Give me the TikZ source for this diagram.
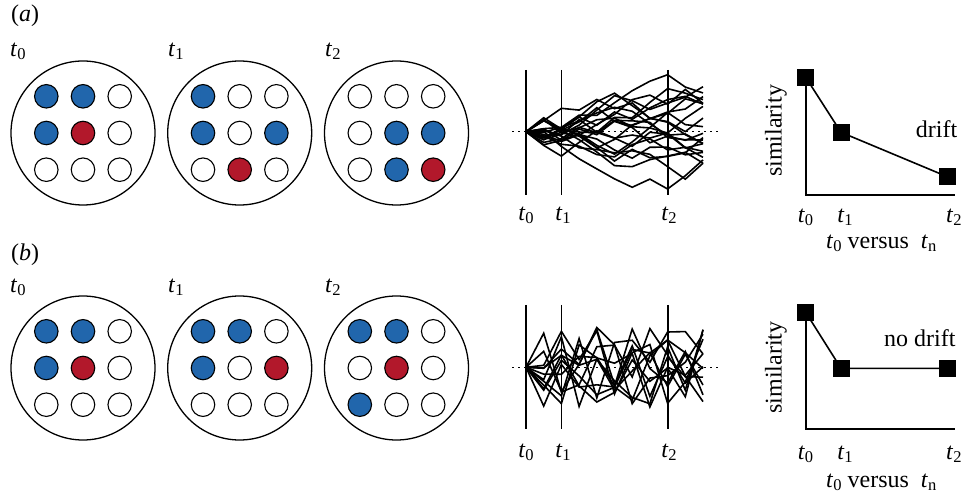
\documentclass[tikz,border=0pt]{standalone}
\usepackage{fontspec}
\setmainfont{Liberation Serif}
\definecolor{cblue}{HTML}{2166AC}
\definecolor{cred}{HTML}{B2182B}
\newcommand\tl[1]{\textit{t}\raisebox{-3pt}{\fontsize{16.5}{17}\selectfont #1}}
\begin{document}
\begin{tikzpicture}[x=1pt,y=-1pt,
  lbl/.style={font=\fontsize{24}{28}\selectfont, inner sep=0pt},
  bigc/.style={circle, draw=black, line width=1.3pt, minimum size=144pt, inner sep=0pt},
  smallc/.style={circle, draw=black, line width=1.1pt, minimum size=23.5pt, inner sep=0pt},
  vline/.style={line width=1.8pt},
  walk/.style={line width=1.6pt, line join=miter},
  dotline/.style={line width=1.4pt, dash pattern=on 2pt off 4pt},
  sq/.style={rectangle, fill=black, minimum size=17pt, inner sep=0pt},
  axis/.style={line width=1.7pt},
  conn/.style={line width=1.6pt}]
\useasboundingbox (0,0) rectangle (962,497);

% panel labels
\node[lbl, anchor=base west] (pa) at (11,22) {(\textit{a})};
\node[lbl, anchor=base west] (pb) at (11,261) {(\textit{b})};

% circle panels
\newcommand\cpanel[4]{%
  \node[bigc] (#3) at (#1,#2) {};
  \foreach \c [count=\n from 0] in {#4} {
    \pgfmathtruncatemacro\row{div(\n,3)}
    \pgfmathtruncatemacro\col{mod(\n,3)}
    \node[smallc, fill=\c] (#3-\n) at ({#1+(\col-1)*36.7},{#2+(\row-1)*36.7}) {};
  }}
\cpanel{83}{133}{a1}{cblue,cblue,white,cblue,cred,white,white,white,white}
\cpanel{239.7}{133}{a2}{cblue,white,white,cblue,white,cblue,white,cred,white}
\cpanel{396.5}{133}{a3}{white,white,white,white,cblue,cblue,white,cblue,cred}
\cpanel{83}{368}{b1}{cblue,cblue,white,cblue,cred,white,white,white,white}
\cpanel{239.7}{368}{b2}{cblue,cblue,white,cblue,white,cred,white,white,white}
\cpanel{396.5}{368}{b3}{cblue,cblue,white,white,cred,white,cblue,white,white}

\node[lbl, anchor=base west] (ta0) at (10,57) {\tl{0}};
\node[lbl, anchor=base west] (ta1) at (168,57) {\tl{1}};
\node[lbl, anchor=base west] (ta2) at (325,57) {\tl{2}};
\node[lbl, anchor=base west] (tb0) at (10,293) {\tl{0}};
\node[lbl, anchor=base west] (tb1) at (168,293) {\tl{1}};
\node[lbl, anchor=base west] (tb2) at (325,293) {\tl{2}};

% random walks (a)
\pgfmathsetseed{11}
\draw[dotline] (512,131.7) -- (718,131.7);
\foreach \k in {1,...,22}{
  \draw[walk] (526,131.7) \foreach \i in {1,...,10}{ -- ++(17.7,{rand*16}) };
}
\draw[vline] (526,70) -- (526,195);
\draw[vline] (561.4,70) -- (561.4,195);
\draw[vline] (667.6,70) -- (667.6,195);
\node[lbl, anchor=base] (wa0) at (526,221) {\tl{0}};
\node[lbl, anchor=base] (wa1) at (563,221) {\tl{1}};
\node[lbl, anchor=base] (wa2) at (669,221) {\tl{2}};

% random fluctuations (b)
\pgfmathsetseed{5}
\draw[dotline] (512,367.3) -- (718,367.3);
\foreach \k in {1,...,12}{
  \draw[walk] (526,367.3) \foreach \i in {1,...,10}{ -- ({526+\i*17.7},{367.3+rand*40}) };
}
\draw[vline] (526,305) -- (526,429);
\draw[vline] (561.4,305) -- (561.4,429);
\draw[vline] (667.6,305) -- (667.6,429);
\node[lbl, anchor=base] (wb0) at (526,457) {\tl{0}};
\node[lbl, anchor=base] (wb1) at (563,457) {\tl{1}};
\node[lbl, anchor=base] (wb2) at (669,457) {\tl{2}};

% similarity (a)
\node[sq] (sa1) at (805.7,77.3) {};
\node[sq] (sa2) at (841,132.3) {};
\node[sq] (sa3) at (947.3,176.7) {};
\coordinate (oa) at (805.7,195);
\coordinate (ea) at (955,195);
\draw[axis] (sa1.center) -- (oa) -- (ea);
\draw[conn] (sa1.center) -- (sa2.center) -- (sa3.center);
\node[lbl, rotate=90, anchor=base] (ya) at (781.5,131) {similarity};
\node[lbl, anchor=base west] (da) at (915.7,138) {drift};
\node[lbl, anchor=base] (xa0) at (805.5,223) {\tl{0}};
\node[lbl, anchor=base] (xa1) at (845,223) {\tl{1}};
\node[lbl, anchor=base west] (xa2) at (946,223) {\tl{2}};
\node[lbl, anchor=base west] (xla) at (826,248.5) {\tl{0} versus \ \tl{n}};

% similarity (b)
\node[sq] (sb1) at (805.7,312.3) {};
\node[sq] (sb2) at (841,368.3) {};
\node[sq] (sb3) at (947.3,368.3) {};
\coordinate (ob) at (805.7,429.3);
\coordinate (eb) at (955,429.3);
\draw[axis] (sb1.center) -- (ob) -- (eb);
\draw[conn] (sb1.center) -- (sb2.center) -- (sb3.center);
\node[lbl, rotate=90, anchor=base] (yb) at (781.5,367.5) {similarity};
\node[lbl, anchor=base west] (db) at (884,347) {no drift};
\node[lbl, anchor=base] (xb0) at (805.5,459) {\tl{0}};
\node[lbl, anchor=base] (xb1) at (845,459) {\tl{1}};
\node[lbl, anchor=base west] (xb2) at (946,459) {\tl{2}};
\node[lbl, anchor=base west] (xlb) at (826,487) {\tl{0} versus \ \tl{n}};
\end{tikzpicture}
\end{document}
